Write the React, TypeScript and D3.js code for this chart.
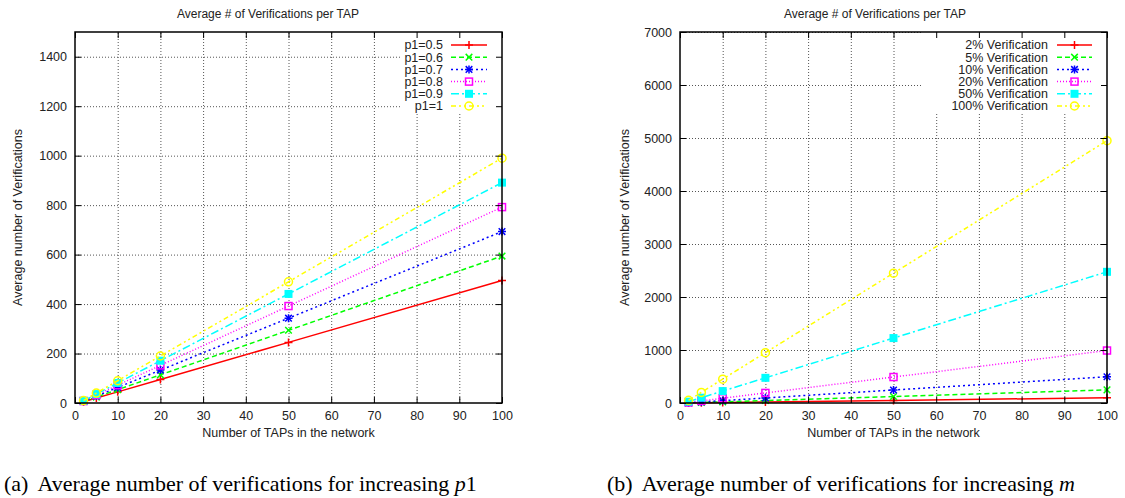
import React, { useEffect, useRef } from 'react';
import * as d3 from 'd3';

// number of TAPs (x values shared by every series)
const taps = [2, 5, 10, 20, 50, 100];
const xTicks = [0, 10, 20, 30, 40, 50, 60, 70, 80, 90, 100];

// (a) increasing p1
const p1Labels = ['p1=0.5', 'p1=0.6', 'p1=0.7', 'p1=0.8', 'p1=0.9', 'p1=1'];
const p1_05 = [5, 20, 45, 95, 245, 495];
const p1_06 = [6, 24, 54, 114, 294, 594];
const p1_07 = [7, 28, 63, 133, 343, 693];
const p1_08 = [8, 32, 72, 152, 392, 792];
const p1_09 = [9, 36, 81, 171, 441, 891];
const p1_10 = [10, 40, 90, 190, 490, 990];
const leftYTicks = [0, 200, 400, 600, 800, 1000, 1200, 1400];

// (b) increasing m
const mLabels = ['2% Verification', '5% Verification', '10% Verification', '20% Verification', '50% Verification', '100% Verification'];
const m_2 = [1, 4, 9, 19, 49, 99];
const m_5 = [2.5, 10, 22.5, 47.5, 122.5, 247.5];
const m_10 = [5, 20, 45, 95, 245, 495];
const m_20 = [10, 40, 90, 190, 490, 990];
const m_50 = [25, 100, 225, 475, 1225, 2475];
const m_100 = [50, 200, 450, 950, 2450, 4950];
const rightYTicks = [0, 1000, 2000, 3000, 4000, 5000, 6000, 7000];

const title = 'Average # of Verifications per TAP';
const xTitle = 'Number of TAPs in the network';
const yTitle = 'Average number of Verifications';

// gnuplot-like line styles
const colors = ['#ff0000', '#00ff00', '#0000ff', '#ff00ff', '#00ffff', '#ffff00'];
const dashes = ['none', '5,3', '2,3', '1,2', '8,3,2,3', '5,3,2,3,2,3'];
const markers = ['plus', 'cross', 'star', 'square', 'fsquare', 'circle'];

const FONT = 'Liberation Sans, Arial, Helvetica, sans-serif';
const SERIF = 'Liberation Serif, Times New Roman, serif';

function drawMarker(g, type, cx, cy, color) {
  const s = 4;
  if (type === 'plus' || type === 'star') {
    g.append('path').attr('d', `M${cx - s},${cy}H${cx + s}M${cx},${cy - s}V${cy + s}`)
      .attr('stroke', color).attr('stroke-width', 1.5).attr('fill', 'none');
  }
  if (type === 'cross' || type === 'star') {
    const t = 3.3;
    g.append('path').attr('d', `M${cx - t},${cy - t}L${cx + t},${cy + t}M${cx - t},${cy + t}L${cx + t},${cy - t}`)
      .attr('stroke', color).attr('stroke-width', 1.5).attr('fill', 'none');
  }
  if (type === 'square') {
    g.append('rect').attr('x', cx - 3.5).attr('y', cy - 3.5).attr('width', 7).attr('height', 7)
      .attr('stroke', color).attr('stroke-width', 1.5).attr('fill', 'none');
  }
  if (type === 'fsquare') {
    g.append('rect').attr('x', cx - 4).attr('y', cy - 4).attr('width', 8).attr('height', 8)
      .attr('fill', color);
  }
  if (type === 'circle') {
    g.append('circle').attr('cx', cx).attr('cy', cy).attr('r', 4)
      .attr('stroke', color).attr('stroke-width', 1.5).attr('fill', 'none');
  }
}

function drawPanel(svg, o) {
  const g = svg.append('g');
  const x = d3.scaleLinear().domain([0, 100]).range([o.left, o.right]);
  const y = d3.scaleLinear().domain([0, o.yMax]).range([o.bottom, o.top]);
  const w = o.right - o.left;
  const h = o.bottom - o.top;

  // grid
  g.append('g')
    .attr('transform', `translate(0,${o.bottom})`)
    .call(d3.axisBottom(x).tickValues(xTicks.slice(1, -1)).tickSize(-h).tickFormat(''))
    .call(s => s.select('.domain').remove())
    .selectAll('line').attr('stroke', '#555').attr('stroke-dasharray', '1,2');
  g.append('g')
    .attr('transform', `translate(${o.left},0)`)
    .call(d3.axisLeft(y).tickValues(o.yTicks.slice(1)).tickSize(-w).tickFormat(''))
    .call(s => s.select('.domain').remove())
    .selectAll('line').attr('stroke', '#555').attr('stroke-dasharray', '1,2');

  // opaque key box
  g.append('rect').attr('x', o.keyBoxX).attr('y', o.top).attr('width', o.right - o.keyBoxX)
    .attr('height', o.keyBoxBottom - o.top).attr('fill', 'white');

  // series
  const line = d3.line().x(d => x(d[0])).y(d => y(d[1]));
  o.series.forEach((vals, i) => {
    const pts = taps.map((t, j) => [t, vals[j]]);
    g.append('path').datum(pts).attr('d', line).attr('fill', 'none')
      .attr('stroke', colors[i]).attr('stroke-width', 1.5)
      .attr('stroke-dasharray', dashes[i]);
    pts.forEach(p => drawMarker(g, markers[i], x(p[0]), y(p[1]), colors[i]));
  });

  // axes with inward ticks, mirrored
  const styleAxis = s => {
    s.select('.domain').remove();
    s.selectAll('line').attr('stroke', '#000').attr('stroke-width', 1);
    s.selectAll('text').attr('font-family', FONT).attr('font-size', '12.5px').attr('fill', '#222');
  };
  g.append('g').attr('transform', `translate(0,${o.bottom})`)
    .call(d3.axisBottom(x).tickValues(xTicks).tickSizeInner(-6).tickSizeOuter(0).tickPadding(8).tickFormat(d3.format('d')))
    .call(styleAxis);
  g.append('g').attr('transform', `translate(0,${o.top})`)
    .call(d3.axisTop(x).tickValues(xTicks).tickSizeInner(-6).tickSizeOuter(0).tickFormat(''))
    .call(styleAxis);
  g.append('g').attr('transform', `translate(${o.left},0)`)
    .call(d3.axisLeft(y).tickValues(o.yTicks).tickSizeInner(-6).tickSizeOuter(0).tickPadding(8).tickFormat(d3.format('d')))
    .call(styleAxis);
  g.append('g').attr('transform', `translate(${o.right},0)`)
    .call(d3.axisRight(y).tickValues(o.yTicks).tickSizeInner(-6).tickSizeOuter(0).tickFormat(''))
    .call(styleAxis);

  // border
  g.append('rect').attr('x', o.left).attr('y', o.top).attr('width', w).attr('height', h)
    .attr('fill', 'none').attr('stroke', '#000').attr('stroke-width', 1.5);

  // key
  o.labels.forEach((lab, i) => {
    const ky = o.keyTop + i * 12.2;
    g.append('text').attr('x', o.keyTextX).attr('y', ky).attr('dy', '0.35em')
      .attr('text-anchor', 'end').attr('font-family', FONT).attr('font-size', '12.5px')
      .attr('fill', '#222').text(lab);
    g.append('line').attr('x1', o.keyLineX0).attr('x2', o.keyLineX1).attr('y1', ky).attr('y2', ky)
      .attr('stroke', colors[i]).attr('stroke-width', 1.5).attr('stroke-dasharray', dashes[i]);
    drawMarker(g, markers[i], (o.keyLineX0 + o.keyLineX1) / 2, ky, colors[i]);
  });

  // titles
  g.append('text').attr('x', o.titleX).attr('y', 18).attr('text-anchor', 'middle')
    .attr('font-family', FONT).attr('font-size', '12px').attr('fill', '#222').text(title);
  g.append('text').attr('x', (o.left + o.right) / 2).attr('y', 437).attr('text-anchor', 'middle')
    .attr('font-family', FONT).attr('font-size', '12.5px').attr('fill', '#222').text(xTitle);
  g.append('text')
    .attr('transform', `translate(${o.yTitleX},${(o.top + o.bottom) / 2}) rotate(-90)`)
    .attr('text-anchor', 'middle').attr('dy', '0.35em')
    .attr('font-family', FONT).attr('font-size', '12.5px').attr('fill', '#222').text(yTitle);

  // sub caption
  const cap = svg.append('text').attr('x', o.capX).attr('y', 491)
    .attr('font-family', SERIF).attr('font-size', '22px').attr('fill', '#000');
  cap.append('tspan').text(o.capTag);
  cap.append('tspan').attr('dx', 9).text('Average number of verifications for increasing ');
  cap.append('tspan').attr('font-style', 'italic').text(o.capVar);
  if (o.capSuffix) cap.append('tspan').text(o.capSuffix);
}

export default function App() {
  const ref = useRef(null);

  useEffect(() => {
    document.body.style.margin = '0';
    d3.select(ref.current).selectAll('*').remove();
    const svg = d3.select(ref.current);
    svg.append('rect').attr('width', 1125).attr('height', 498).attr('fill', 'white');

    drawPanel(svg, {
      left: 75, right: 502, top: 32, bottom: 403, yMax: 1500, yTicks: leftYTicks,
      series: [p1_05, p1_06, p1_07, p1_08, p1_09, p1_10], labels: p1Labels,
      keyBoxX: 400, keyBoxBottom: 113, keyTop: 45, keyTextX: 443, keyLineX0: 451, keyLineX1: 487,
      titleX: 268, yTitleX: 18, capX: 4, capTag: '(a)', capVar: 'p', capSuffix: '1',
    });
    drawPanel(svg, {
      left: 680, right: 1107, top: 32, bottom: 403, yMax: 7000, yTicks: rightYTicks,
      series: [m_2, m_5, m_10, m_20, m_50, m_100], labels: mLabels,
      keyBoxX: 922, keyBoxBottom: 113, keyTop: 45, keyTextX: 1048, keyLineX0: 1057, keyLineX1: 1092,
      titleX: 875, yTitleX: 625, capX: 607, capTag: '(b)', capVar: 'm', capSuffix: '',
    });
  }, []);

  return <svg ref={ref} width={1125} height={498} style={{ display: 'block' }}></svg>;
}
